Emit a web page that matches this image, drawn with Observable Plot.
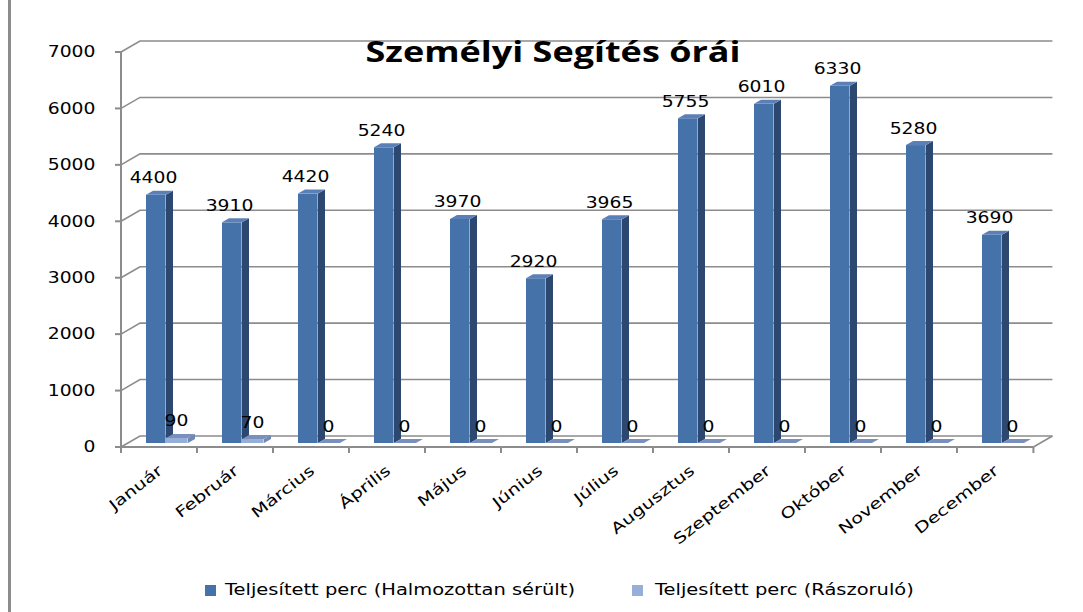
<!DOCTYPE html>
<html>
<head>
<meta charset="utf-8">
<script src="https://cdn.jsdelivr.net/npm/d3@7"></script>
<script src="https://cdn.jsdelivr.net/npm/@observablehq/plot@0.6"></script>
<style>
  html, body { margin: 0; padding: 0; background: #fff; }
  #wrap { position: relative; width: 1083px; height: 612px; overflow: hidden; font-family: "DejaVu Sans", Verdana, sans-serif; }
  #wrap::before { content: ""; position: absolute; left: 8px; top: 0; bottom: 0; width: 3px; background: #8c8c8c; }
  #chart svg { display: block; }
  .leg-swatch { position: absolute; top: 585px; width: 11px; height: 11px; }
  .leg-text { position: absolute; top: 580px; font-size: 16.5px; line-height: 20px; color: #000; white-space: nowrap; transform-origin: 0 50%; }
</style>
</head>
<body>
<div id="wrap">
  <div id="chart"></div>
  <div id="legend"></div>
</div>
<script>
// ---- data ----
const months = ["Január", "Február", "Március", "Április", "Május", "Június", "Július", "Augusztus", "Szeptember", "Október", "November", "December"];
const halmozottan = [4400, 3910, 4420, 5240, 3970, 2920, 3965, 5755, 6010, 6330, 5280, 3690];
const raszorulo = [90, 70, 0, 0, 0, 0, 0, 0, 0, 0, 0, 0];
const yTicks = [0, 1000, 2000, 3000, 4000, 5000, 6000, 7000];
const seriesNames = ["Teljesített perc (Halmozottan sérült)", "Teljesített perc (Rászoruló)"];
const title = "Személyi Segítés órái";

// ---- styles ----
const col = {
  front1: "#4672AA", side1: "#2C4870", top1: "#5A80B7",
  front2: "#96AFD8", side2: "#6F88B4", top2: "#7990BC",
  grid: "#8c8c8c"
};
const W = 1083, H = 565, mL = 118, mR = 48, mT = 52, mB = 118;
const bw = (W - mL - mR) / months.length;
const lift = 4;            // bars stand a little behind the front floor edge
const bDX = 7, bDY = 4;    // bar depth
const wDX = 19, wDY = 11;  // wall depth

const rows1 = months.map((m, i) => ({month: m, value: halmozottan[i]}));
const rows2 = months.map((m, i) => ({month: m, value: raszorulo[i]}));
const ins1 = [25, bw - 45], ins2 = [45, bw - 67];

const plot = Plot.plot({
  width: W, height: H,
  marginLeft: mL, marginRight: mR, marginTop: mT, marginBottom: mB,
  style: {fontFamily: "DejaVu Sans, Verdana, sans-serif", fontSize: "15px", color: "#000", background: "transparent", overflow: "visible"},
  x: {domain: months, padding: 0, axis: null},
  y: {domain: [0, 7000], ticks: yTicks, tickSize: 0, tickPadding: 23, tickFormat: d => String(d), label: null},
  marks: [
    Plot.barY(rows1, {x: "month", y: "value", fill: col.front1, insetLeft: ins1[0], insetRight: ins1[1], dy: -lift}),
    Plot.barY(rows2, {x: "month", y: "value", fill: col.front2, insetLeft: ins2[0], insetRight: ins2[1], dy: -lift}),
    Plot.text(rows1, {x: "month", y: "value", text: d => String(d.value), dx: -6, dy: -(lift + 12), lineAnchor: "bottom", fontSize: 15, fill: "#000"}),
    Plot.text(rows2, {x: "month", y: "value", text: d => String(d.value), dx: 17, dy: -(lift + 12), lineAnchor: "bottom", fontSize: 15, fill: "#000"}),
    Plot.text(months, {x: d => d, frameAnchor: "bottom", dx: 4, dy: 25, rotate: -38, textAnchor: "end", fontSize: 15, fill: "#000"}),
    Plot.text([title], {frameAnchor: "top", dx: -24, dy: 9, lineAnchor: "bottom", fontSize: 29, fontWeight: "bold", fontFamily: "Open Sans, DejaVu Sans, sans-serif", fill: "#000"})
  ]
});
document.getElementById("chart").appendChild(plot);

// ---- 3D decoration drawn through Plot's own scales ----
const sx = plot.scale("x"), sy = plot.scale("y");
const X = m => sx.apply(m);
const Y = v => sy.apply(v);
const svg = d3.select(plot);
const x0 = X(months[0]), xEnd = X(months[months.length - 1]) + bw;

// back wall grid + floor (behind everything)
const back = svg.insert("g", ":first-child").attr("fill", "none").attr("stroke", col.grid);
for (const v of yTicks) {
  back.append("path").attr("stroke-width", 1.6)
    .attr("d", `M${x0},${Y(v)}L${x0 + wDX},${Y(v) - wDY}H${xEnd + wDX}`);
}
back.append("path").attr("stroke-width", 1.6)
  .attr("d", `M${xEnd},${Y(0)}L${xEnd + wDX},${Y(0) - wDY}`);
// axes lines and ticks
back.append("path").attr("stroke-width", 2).attr("d", `M${x0},${Y(yTicks[yTicks.length - 1])}V${Y(0)}`);
back.append("path").attr("stroke-width", 2).attr("d", `M${x0},${Y(0)}H${xEnd}`);
for (const v of yTicks) back.append("path").attr("stroke-width", 2).attr("d", `M${x0 - 6},${Y(v)}H${x0}`);
const bounds = months.map(m => X(m)).concat([xEnd]);
for (const b of bounds) back.append("path").attr("stroke-width", 2).attr("d", `M${b},${Y(0)}V${Y(0) + 6}`);

// bar side / top faces
const barGroups = svg.selectAll('g[aria-label="bar"]').nodes();
function faces(rows, ins, side, top, afterNode) {
  const g = document.createElementNS("http://www.w3.org/2000/svg", "g");
  afterNode.parentNode.insertBefore(g, afterNode.nextSibling);
  const sel = d3.select(g);
  for (const r of rows) {
    const a = X(r.month) + ins[0], b = X(r.month) + bw - ins[1];
    const yt = Y(r.value) - lift, yb = Y(0) - lift;
    sel.append("path").attr("fill", side)
      .attr("d", `M${b},${yt}L${b + bDX},${yt - bDY}L${b + bDX},${yb - bDY}L${b},${yb}Z`);
    sel.append("path").attr("fill", top)
      .attr("d", `M${a},${yt}L${a + bDX},${yt - bDY}L${b + bDX},${yt - bDY}L${b},${yt}Z`);
  }
}
faces(rows1, ins1, col.side1, col.top1, barGroups[0]);
faces(rows2, ins2, col.side2, col.top2, barGroups[1]);

// widen the texts like the horizontally stretched original
function stretch(el, f) {
  const L = el.getComputedTextLength();
  el.setAttribute("textLength", L * f);
  el.setAttribute("lengthAdjust", "spacingAndGlyphs");
}
svg.selectAll('g[aria-label="y-axis tick label"] text').each(function() { stretch(this, 1.25); });
const textGroups = svg.selectAll('g[aria-label="text"]').nodes();
d3.select(textGroups[0]).selectAll("text").each(function() { stretch(this, 1.25); });
d3.select(textGroups[1]).selectAll("text").each(function() { stretch(this, 1.25); });
d3.select(textGroups[2]).selectAll("text").each(function() { stretch(this, 1.3); });
d3.select(textGroups[3]).selectAll("text").each(function() { this.setAttribute("textLength", 375); this.setAttribute("lengthAdjust", "spacingAndGlyphs"); });

// ---- legend ----
const legend = d3.select("#legend");
const swX = [205, 632], txX = [225, 655];
const legC = [col.front1, col.front2];
const texts = seriesNames.map((name, i) => {
  legend.append("div").attr("class", "leg-swatch").style("left", swX[i] + "px").style("background", legC[i]);
  return legend.append("div").attr("class", "leg-text").style("left", txX[i] + "px").text(name);
});
const legendFactor = 350 / texts[0].node().getBoundingClientRect().width;
texts.forEach(t => t.style("transform", `scaleX(${legendFactor})`));
</script>
</body>
</html>
